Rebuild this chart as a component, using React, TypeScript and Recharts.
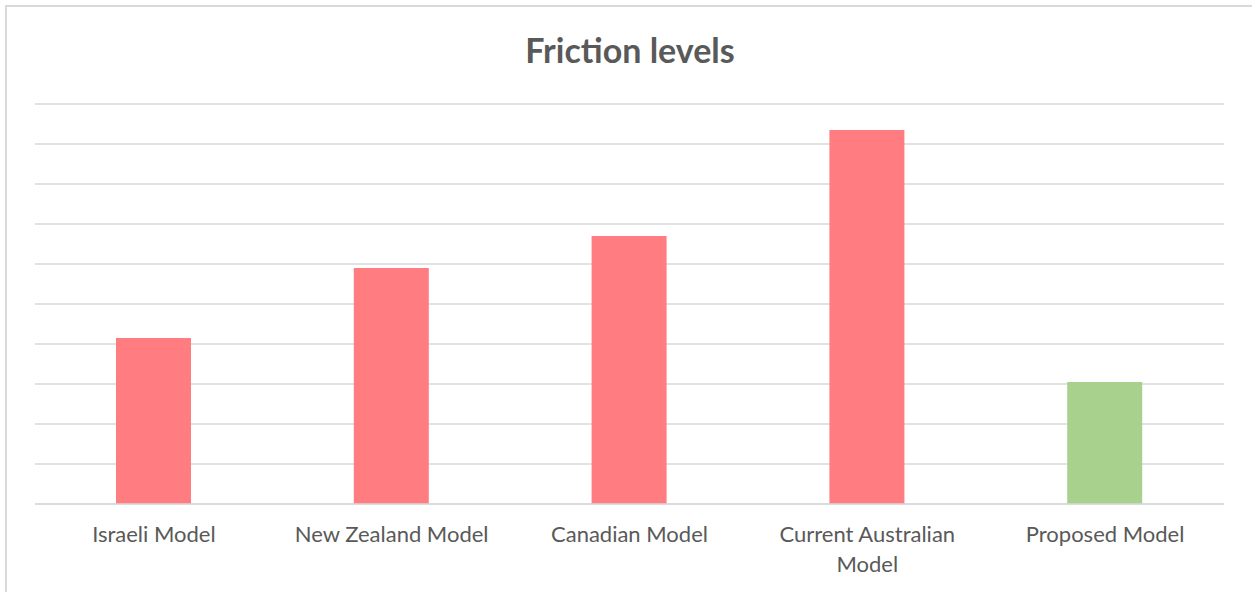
import React from "react";
import { BarChart, Bar, XAxis, YAxis, CartesianGrid, Cell } from "recharts";

const categories = ["Israeli Model", "New Zealand Model", "Canadian Model", "Current Australian Model", "Proposed Model"];
const frictionValues = [4.15, 5.9, 6.7, 9.35, 3.05];
const barColors = ["#FF7C80", "#FF7C80", "#FF7C80", "#FF7C80", "#A9D18E"];
const yTicks = [0, 1, 2, 3, 4, 5, 6, 7, 8, 9, 10];

const data = categories.map((name, i) => ({ name, value: frictionValues[i] }));

const FONT = "Lato, 'Open Sans', sans-serif";

const wrapLabel = (s: string, maxChars: number) => {
  const words = s.split(" ");
  const lines: string[] = [];
  let cur = "";
  for (const w of words) {
    const next = cur ? cur + " " + w : w;
    if (next.length > maxChars && cur) {
      lines.push(cur);
      cur = w;
    } else {
      cur = next;
    }
  }
  if (cur) lines.push(cur);
  return lines;
};

const Tick = (props: any) => {
  const { x, y, payload } = props;
  const lines = wrapLabel(String(payload.value), 18);
  return (
    <text x={x} y={y + 30} textAnchor="middle" fill="#595959" fontSize={22} fontFamily={FONT}>
      {lines.map((l, i) => (
        <tspan key={i} x={x} dy={i === 0 ? 0 : 30}>
          {l}
        </tspan>
      ))}
    </text>
  );
};

export default function App() {
  return (
    <div style={{ position: "absolute", left: 0, top: 0, width: 1252, height: 592, background: "#fff", overflow: "hidden" }}>
      <div
        style={{
          position: "absolute",
          left: 5,
          top: 5,
          width: 1400,
          height: 800,
          borderLeft: "2px solid #D9D9D9",
          borderTop: "2px solid #D9D9D9",
        }}
      />
      <div
        style={{
          position: "absolute",
          left: 0,
          width: 1260,
          top: 33,
          textAlign: "center",
          fontFamily: FONT,
          fontWeight: 700,
          fontSize: 34,
          lineHeight: "33px",
          color: "#595959",
        }}
      >
        Friction levels
      </div>
      <div style={{ position: "absolute", left: 0, top: 0 }}>
        <BarChart width={1252} height={592} data={data} margin={{ top: 104, left: 35, right: 28, bottom: 0 }}>
          <CartesianGrid vertical={false} stroke="#D9D9D9" strokeWidth={1.5} />
          <YAxis hide domain={[0, 10]} ticks={yTicks} />
          <XAxis
            dataKey="name"
            height={88}
            axisLine={{ stroke: "#D9D9D9", strokeWidth: 1.5 }}
            tickLine={false}
            tick={<Tick />}
            interval={0}
          />
          <Bar dataKey="value" barSize={75} isAnimationActive={false}>
            {data.map((d, i) => (
              <Cell key={d.name} fill={barColors[i]} />
            ))}
          </Bar>
        </BarChart>
      </div>
    </div>
  );
}
